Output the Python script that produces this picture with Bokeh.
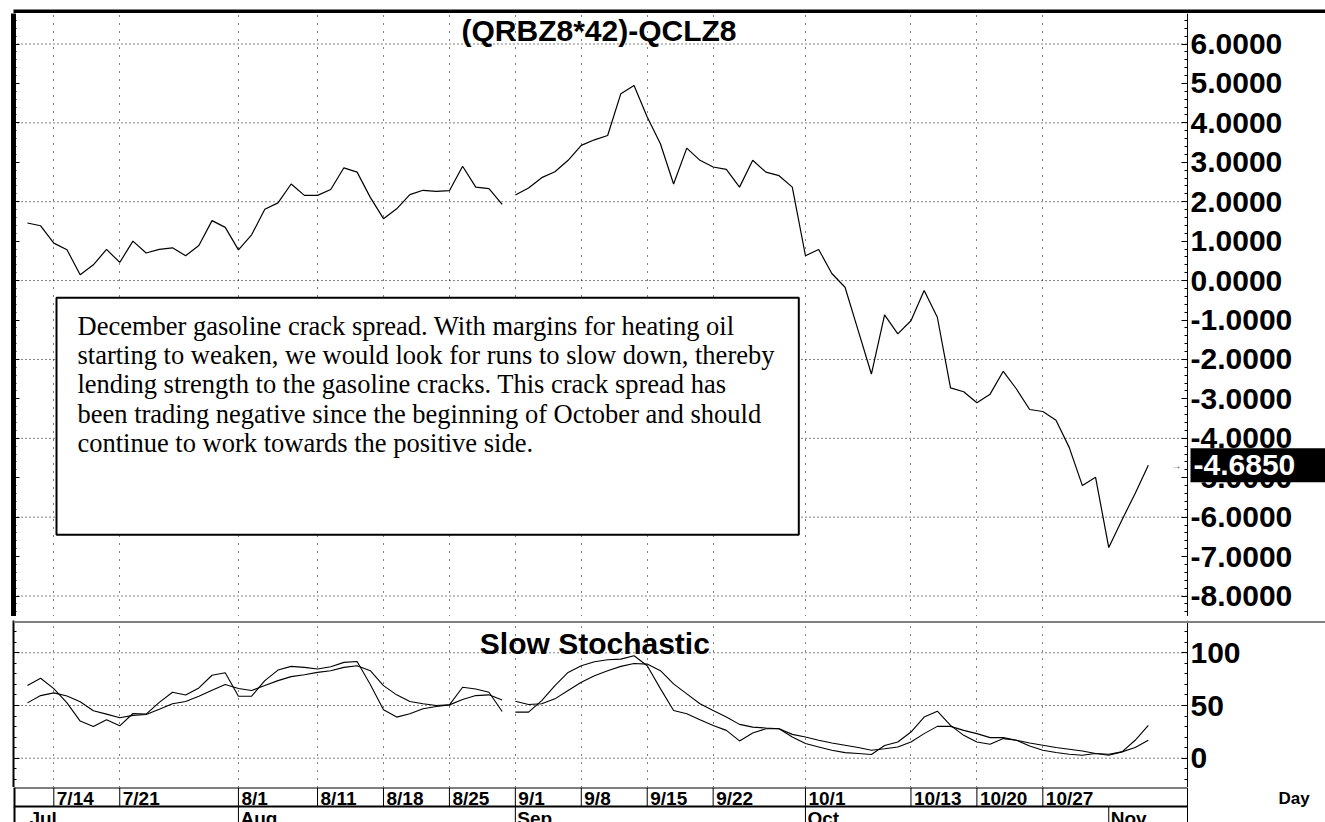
import numpy as np
from bokeh.plotting import figure
from bokeh.layouts import column
from bokeh.models import (Range1d, LinearAxis, FixedTicker, Label, BoxAnnotation,
                          PrintfTickFormatter, CustomJSTickFormatter, Span)
from bokeh.core.properties import value
from bokeh.embed import file_html
from bokeh.resources import INLINE

# ---------------- data ----------------
day_index = list(range(86))          # trading days from 7/10 to 11/6
gap_after = 36                        # line break between these two trading days

spread = [1.46, 1.39, 0.95, 0.78, 0.15, 0.40, 0.79, 0.46, 1.00, 0.70,
          0.79, 0.83, 0.63, 0.89, 1.52, 1.35, 0.78, 1.16, 1.81, 1.97,
          2.45, 2.16, 2.16, 2.31, 2.86, 2.75, 2.11, 1.57, 1.82, 2.18,
          2.29, 2.26, 2.28, 2.90, 2.37, 2.33, 1.93, 2.17, 2.35, 2.61,
          2.76, 3.05, 3.43, 3.57, 3.68, 4.74, 4.95, 4.15, 3.47, 2.45,
          3.36, 3.05, 2.88, 2.82, 2.37, 3.05, 2.75, 2.66, 2.37, 0.63,
          0.79, 0.18, -0.17, -1.27, -2.37, -0.87, -1.35, -1.02, -0.25, -0.93,
          -2.72, -2.82, -3.10, -2.88, -2.30, -2.75, -3.27, -3.32, -3.54, -4.23,
          -5.20, -4.99, -6.77, -6.07, -5.40, -4.685]

pct_k = [68.9, 75.8, 66.0, 52.5, 35.2, 30.0, 36.5, 30.7, 42.4, 41.8,
         53.0, 62.6, 60.0, 66.7, 78.7, 81.0, 58.8, 58.8, 73.6, 83.6,
         87.1, 86.2, 84.6, 86.8, 90.9, 91.8, 70.0, 45.9, 39.0, 42.1,
         46.9, 49.1, 50.6, 67.3, 65.7, 62.6, 44.3, 43.7, 43.7, 54.7,
         68.9, 81.4, 87.7, 91.5, 93.4, 94.0, 97.2, 87.7, 66.0, 45.3,
         42.1, 36.5, 31.1, 26.4, 16.4, 23.9, 28.0, 28.0, 20.1, 13.9,
         10.7, 7.5, 5.3, 4.4, 3.5, 12.0, 15.4, 24.8, 39.0, 44.6,
         31.1, 21.7, 15.4, 13.2, 18.6, 17.0, 11.6, 7.5, 5.4, 3.8,
         2.8, 4.4, 2.8, 6.0, 17.0, 31.1]

pct_d = [52.5, 59.4, 62.0, 59.0, 53.5, 45.0, 41.8, 38.4, 40.6, 41.5,
         46.5, 51.6, 53.8, 58.8, 64.5, 70.0, 66.2, 64.2, 68.9, 73.6,
         77.4, 79.2, 81.4, 83.0, 86.2, 87.7, 83.0, 68.9, 60.1, 53.8,
         51.6, 50.0, 50.6, 55.7, 59.4, 60.1, 55.3, 54.1, 51.0, 51.6,
         56.3, 64.2, 72.0, 78.3, 83.0, 87.1, 89.9, 89.3, 83.0, 70.5,
         61.0, 51.6, 45.3, 39.0, 32.1, 29.5, 28.6, 28.0, 22.6, 20.1,
         17.0, 14.4, 12.3, 10.1, 7.5, 9.0, 10.7, 15.4, 23.3, 30.2,
         30.2, 26.4, 23.3, 19.5, 19.5, 17.0, 14.4, 12.3, 10.1, 8.5,
         6.9, 4.4, 3.8, 6.0, 10.1, 17.0]

day_labels = ["7/14", "7/21", "8/1", "8/11", "8/18", "8/25", "9/1", "9/8",
              "9/15", "9/22", "10/1", "10/13", "10/20", "10/27"]
day_label_idx = [2, 7, 16, 22, 27, 32, 37, 42, 47, 52, 59, 67, 72, 77]
month_labels = ["Jul", "Aug", "Sep", "Oct", "Nov"]
month_idx = [0, 16, 37, 59, 82]

main_ticks = list(range(-8, 7))
main_grid = list(range(-8, 7, 2))
stoch_ticks = [0, 50, 100]

title_main = "(QRBZ8*42)-QCLZ8"
title_stoch = "Slow  Stochastic"
note = ("December gasoline crack spread. With margins for heating oil\n"
        "starting to weaken, we would look for runs to slow down, thereby\n"
        "lending strength to the gasoline cracks. This crack spread has\n"
        "been trading negative since the beginning of October and should\n"
        "continue to work towards the positive side.")

# ---------------- geometry (pixels) ----------------
W = 1325
FRAME_LEFT = 13
AXIS_PX = 1187
X0_PX, PPD = 26.93, 13.187      # pixel of day 0, pixels per trading day


def dx(px):
    return (px - X0_PX) / PPD


def y_main(py):
    return 6 - (py - 43.5) / 39.43


def y_stoch(py):
    return (757.7 - py) / 1.054


def y_strip(py):
    return 1.0 - (py - 787) / 19.0


xr = Range1d(dx(FRAME_LEFT), dx(W))
axis_x = dx(AXIS_PX)
FONT = "Liberation Sans"
g = gap_after + 1


def panel(height, y_range):
    p = figure(width=W, height=height, x_range=xr, y_range=y_range,
               toolbar_location=None, output_backend="svg",
               x_axis_location=None, y_axis_location=None,
               min_border_left=FRAME_LEFT, min_border_right=0,
               min_border_top=0, min_border_bottom=0,
               background_fill_color="white", border_fill_color="white",
               outline_line_color=None)
    return p


def bar(height, top=0):
    b = figure(width=W, height=height, toolbar_location=None, output_backend="svg",
               x_axis_location=None, y_axis_location=None,
               min_border_left=8, min_border_right=0, min_border_top=top, min_border_bottom=0,
               x_range=Range1d(0, 1), y_range=Range1d(0, 1),
               background_fill_color="black", border_fill_color="white",
               outline_line_color=None)
    b.grid.visible = False
    return b


def style_grid(p, yticks):
    p.xgrid.ticker = FixedTicker(ticks=day_label_idx)
    p.xgrid.grid_line_color = "black"
    p.xgrid.grid_line_dash = "1 7"
    p.xgrid.grid_line_width = 1
    p.ygrid.visible = False
    p.segment(x0=xr.start, y0=yticks, x1=axis_x, y1=yticks,
              line_color="black", line_width=1, line_dash="1 3")


def side_axes(p, major, minor, formatter, left_width):
    la = LinearAxis(ticker=FixedTicker(ticks=major, minor_ticks=minor),
                    formatter=CustomJSTickFormatter(code="return '';"),
                    axis_line_width=left_width, axis_line_color="black",
                    major_tick_in=6, major_tick_out=0, minor_tick_in=3, minor_tick_out=0,
                    major_tick_line_color="black", minor_tick_line_color="black",
                    major_label_standoff=0)
    p.add_layout(la, "left")
    ra = LinearAxis(ticker=FixedTicker(ticks=major, minor_ticks=minor),
                    formatter=formatter, fixed_location=axis_x,
                    axis_line_width=1, axis_line_color="black",
                    major_tick_in=6, major_tick_out=0, minor_tick_in=3, minor_tick_out=0,
                    major_tick_line_color="black", minor_tick_line_color="black",
                    major_label_standoff=3, major_label_text_font=FONT,
                    major_label_text_font_style="bold", major_label_text_font_size="30px",
                    major_label_text_color="black")
    p.add_layout(ra, "right")


# ---- main panel ----
p1 = panel(603, Range1d(y_main(616), y_main(13)))
style_grid(p1, main_grid)
side_axes(p1, main_ticks, [round(v, 1) for v in np.arange(-8.4, 6.8, 0.2)],
          PrintfTickFormatter(format="%.4f"), 5)

p1.line(day_index[:g], spread[:g], line_color="black", line_width=1.2)
p1.line(day_index[g:], spread[g:], line_color="black", line_width=1.2)

p1.add_layout(Label(x=dx(598.5), y=y_main(29.5), text=title_main,
                    text_align="center", text_baseline="middle",
                    text_font=FONT, text_font_style="bold", text_font_size="30px",
                    text_color="black"))

p1.add_layout(BoxAnnotation(left=dx(56), right=dx(798.3), top=y_main(297.3), bottom=y_main(534.3),
                            fill_color="white", fill_alpha=1.0,
                            line_color="black", line_width=2, line_alpha=1.0))
p1.add_layout(Label(x=dx(77), y=y_main(310), text=note, text_align="left", text_baseline="top",
                    text_font="Liberation Serif", text_font_size="26.5px",
                    text_line_height=0.98, text_color="black"))

last = spread[-1]
p1.add_layout(Label(x=axis_x, y=last, x_offset=3, text=f"{last:.4f}",
                    text_align="left", text_baseline="middle",
                    text_font=FONT, text_font_style="bold", text_font_size="30px",
                    text_color="white", background_fill_color="black",
                    padding=dict(left=3, right=45, top=7, bottom=7)))
p1.add_layout(Label(x=dx(1176), y=last, text="\u2192", text_align="center",
                    text_baseline="middle", text_font_size="10px", text_color="#444444"))

# ---- stochastic panel ----
p2 = panel(167, Range1d(y_stoch(787), y_stoch(620)))
style_grid(p2, stoch_ticks)
side_axes(p2, stoch_ticks, list(range(-20, 130, 10)), PrintfTickFormatter(format="%d"), 2)
p2.add_layout(Span(location=y_stoch(621.5), dimension="width", line_color="#808080", line_width=2))

for series in (pct_k, pct_d):
    p2.line(day_index[:g], series[:g], line_color="black", line_width=1.1)
    p2.line(day_index[g:], series[g:], line_color="black", line_width=1.1)

p2.add_layout(Label(x=dx(598.5), y=y_stoch(642.5), text=title_stoch,
                    text_align="center", text_baseline="middle",
                    text_font=FONT, text_font_style="bold", text_font_size="30px",
                    text_color="black"))

# ---- date strip ----
p3 = panel(35, Range1d(y_strip(822), y_strip(787)))
p3.grid.visible = False
p3.segment(x0=xr.start, y0=[y_strip(787), y_strip(806)], x1=axis_x,
           y1=[y_strip(787), y_strip(806)], line_color="black", line_width=2)
p3.add_layout(Span(location=axis_x, dimension="height", line_color="black", line_width=1))
p3.add_layout(Span(location=xr.start, dimension="height", line_color="black", line_width=4))
p3.segment(x0=day_label_idx, y0=y_strip(806), x1=day_label_idx, y1=y_strip(787),
           line_color="black", line_width=1)
p3.segment(x0=month_idx[1:], y0=y_strip(830), x1=month_idx[1:], y1=y_strip(806),
           line_color="black", line_width=1)
p3.text(x=day_label_idx, y=y_strip(797.5), text=day_labels, x_offset=3,
        text_align="left", text_baseline="middle",
        text_font=value(FONT), text_font_style="bold", text_font_size=value("19px"),
        text_color="black")
p3.text(x=month_idx, y=y_strip(817.5), text=month_labels, x_offset=2,
        text_align="left", text_baseline="middle",
        text_font=value(FONT), text_font_style="bold", text_font_size=value("19px"),
        text_color="black")
p3.add_layout(Label(x=dx(1278), y=y_strip(797.5), text="Day", text_align="left",
                    text_baseline="middle",
                    text_font=FONT, text_font_style="bold", text_font_size="17px",
                    text_color="black"))

layout = column(bar(13, top=9), p1, bar(4), p2, p3, spacing=0)

open("out.html", "w").write(file_html(layout, INLINE))
